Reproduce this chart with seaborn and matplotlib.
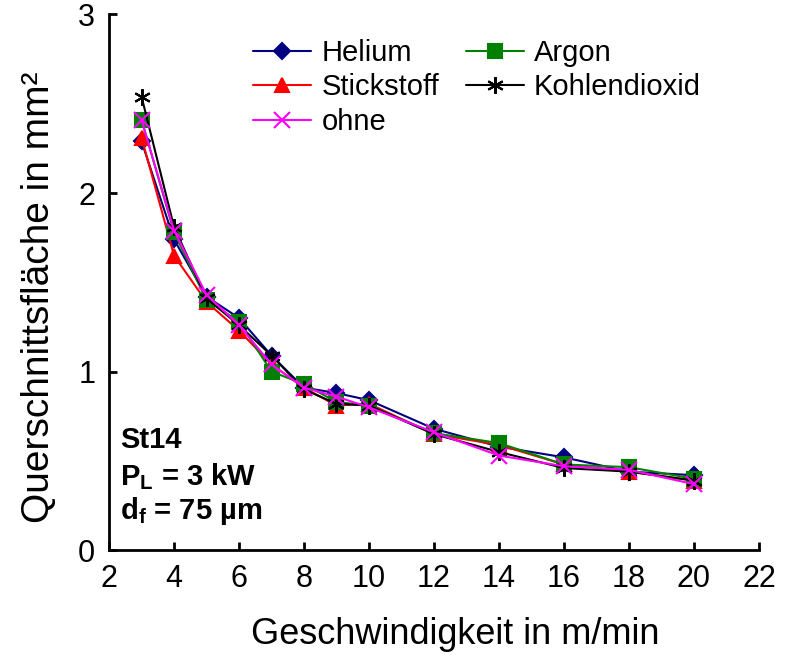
import matplotlib
matplotlib.use("Agg")
import matplotlib.pyplot as plt
import seaborn as sns
import pandas as pd

sns.set_theme(style="ticks")
plt.rcParams['font.family'] = ['Liberation Sans', 'DejaVu Sans']
plt.rcParams['text.color'] = 'black'
plt.rcParams['axes.labelcolor'] = 'black'
plt.rcParams['mathtext.fontset'] = 'custom'
plt.rcParams['mathtext.rm'] = 'Liberation Sans'
plt.rcParams['mathtext.bf'] = 'Liberation Sans:bold'
plt.rcParams['mathtext.it'] = 'Liberation Sans:italic'

speed = [3, 4, 5, 6, 7, 8, 9, 10, 12, 14, 16, 18, 20]
helium = [2.29, 1.74, 1.42, 1.30, 1.09, 0.91, 0.88, 0.84, 0.68, 0.58, 0.52, 0.44, 0.42]
stickstoff = [2.31, 1.65, 1.39, 1.23, 1.04, 0.91, 0.81, 0.82, 0.65, 0.59, 0.48, 0.44, 0.39]
argon = [2.41, 1.78, 1.40, 1.28, 1.00, 0.93, 0.83, 0.81, 0.655, 0.60, 0.48, 0.465, 0.40]
kohlendioxid = [2.54, 1.81, 1.41, 1.26, 1.09, 0.90, 0.82, 0.81, 0.65, 0.55, 0.46, 0.44, 0.39]
ohne = [2.41, 1.79, 1.43, 1.26, 1.04, 0.91, 0.86, 0.80, 0.66, 0.53, 0.47, 0.45, 0.37]

series = [
    ("Helium", helium, "#000080", "D", 8),
    ("Stickstoff", stickstoff, "#ff0000", "^", 10),
    ("Argon", argon, "#008000", "s", 10),
    ("Kohlendioxid", kohlendioxid, "#000000", (6, 2, 0), 12),
    ("ohne", ohne, "#ff00ff", "x", 11),
]

fig = plt.figure(figsize=(7.93, 6.55), dpi=100)
ax = fig.add_axes([0.1375, 0.160, 0.957 - 0.1375, 0.978 - 0.160])

for name, vals, color, marker, ms in series:
    df = pd.DataFrame({"x": speed, "y": vals})
    sns.lineplot(data=df, x="x", y="y", ax=ax, color=color, marker=marker,
                 markersize=ms, linewidth=1.5, markeredgecolor=color,
                 markeredgewidth=1.5, label=name, clip_on=False)

h, l = ax.get_legend_handles_labels()
hm = dict(zip(l, h))
order = ["Helium", "Stickstoff", "ohne", "Argon", "Kohlendioxid"]
leg = ax.legend([hm[k] for k in order], order, ncol=2, loc="upper left",
                bbox_to_anchor=(253 / 793, 1 - 39 / 655), bbox_transform=fig.transFigure,
                frameon=False, fontsize=21, handlelength=2.0, handletextpad=0.35,
                columnspacing=0.9, labelspacing=0.22, borderpad=0, borderaxespad=0)
for t in leg.get_texts():
    t.set_color("black")

ax.set_xlim(2, 22)
ax.set_ylim(0, 3)
ax.set_xticks(range(2, 23, 2))
ax.set_yticks([0, 1, 2, 3])
for s in ["top", "right"]:
    ax.spines[s].set_visible(False)
for s in ["left", "bottom"]:
    ax.spines[s].set_linewidth(2)
    ax.spines[s].set_color("black")
ax.tick_params(direction="in", length=6, width=2, labelsize=22, pad=10, colors="black")
ax.set_xlabel("Geschwindigkeit in m/min", fontsize=26, color="black")
ax.set_ylabel("Querschnittsfläche in mm²", fontsize=28, color="black")
ax.xaxis.set_label_coords(0.532, -0.125)
ax.yaxis.set_label_coords(-0.08, 0.472)

ax.text(0.017, 0.205, "St14", transform=ax.transAxes, fontsize=21, fontweight="bold", va="center", color="black")
ax.text(0.017, 0.138, r"P$_\mathbf{L}$ = 3 kW", transform=ax.transAxes, fontsize=21, fontweight="bold", va="center", color="black")
ax.text(0.017, 0.073, r"d$_\mathbf{f}$ = 75 µm", transform=ax.transAxes, fontsize=21, fontweight="bold", va="center", color="black")

fig.savefig("out.png", dpi=100)
